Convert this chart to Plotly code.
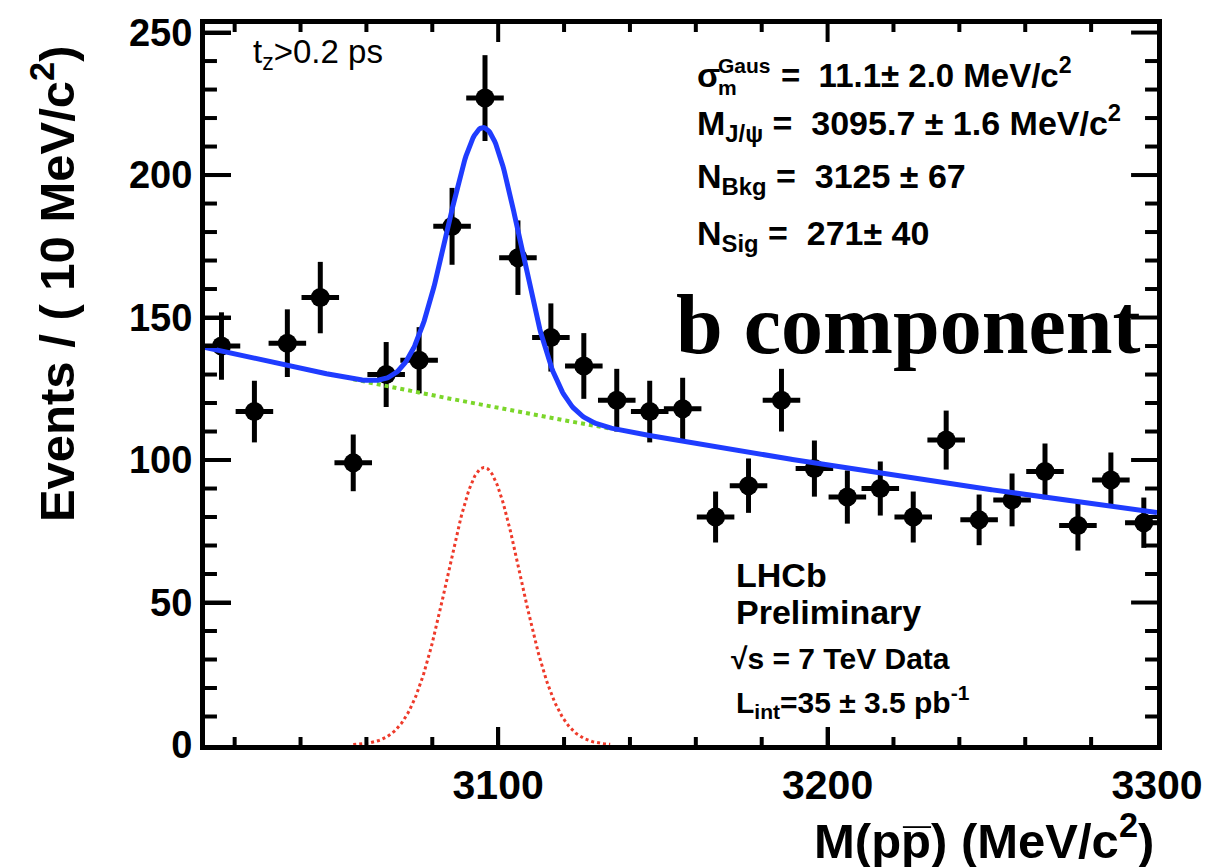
import numpy as np
import plotly.graph_objects as go

# ---------------- data ----------------
mass_bins = [3016, 3026, 3036, 3046, 3056, 3066, 3076, 3086, 3096, 3106,
             3116, 3126, 3136, 3146, 3156, 3166, 3176, 3186, 3196, 3206,
             3216, 3226, 3236, 3246, 3256, 3266, 3276, 3286, 3296]
events = [140, 117, 141, 157, 99, 130, 135, 182, 227, 171,
          143, 133, 121, 117, 118, 80, 91, 121, 97, 87,
          90, 80, 107, 79, 86, 96, 77, 93, 78]
bin_half_width = 5.7

# fit parameters (from the chart text and curve)
sig_mean = 3095.7
sig_sigma = 11.1
n_sig = 271
bin_width = 10
bkg_lo = 139.5   # background level at the left edge
bkg_hi = 81.6    # background level at the right edge
x_lo, x_hi = 3011, 3300
y_lo, y_hi = 0, 253
comp_lo, comp_hi = 3056, 3134

# tick values
x_major = [3100, 3200, 3300]
x_minor = [3020, 3040, 3060, 3080, 3120, 3140, 3160, 3180,
           3220, 3240, 3260, 3280]
y_major = [0, 50, 100, 150, 200, 250]
y_minor = [10, 20, 30, 40, 60, 70, 80, 90, 110, 120, 130, 140,
           160, 170, 180, 190, 210, 220, 230, 240]

# ---------------- model curves ----------------
def bkg(x):
    k = np.log(bkg_lo / bkg_hi) / (x_hi - x_lo)
    return bkg_lo * np.exp(-k * (x - x_lo))

def sig(x):
    amp = n_sig * bin_width / (sig_sigma * np.sqrt(2 * np.pi))
    return amp * np.exp(-0.5 * ((x - sig_mean) / sig_sigma) ** 2)

xc = np.linspace(x_lo, x_hi, 800)
xs = np.linspace(comp_lo, comp_hi, 300)

# ---------------- geometry ----------------
W, H = 1215, 867
L, R, T, B = 205, 1160, 23, 745
PW, PH = R - L, B - T

def px(xp):
    return (xp - L) / PW

def py(yp):
    return (B - yp) / PH

FONT = "Liberation Sans"

fig = go.Figure()

fig.add_trace(go.Scatter(
    x=mass_bins, y=events, mode="markers",
    marker=dict(color="black", size=19, symbol="circle"),
    error_y=dict(type="data", array=list(np.sqrt(events)), color="black",
                 thickness=5, width=0),
    error_x=dict(type="constant", value=bin_half_width, color="black",
                 thickness=5, width=0),
    showlegend=False, hoverinfo="skip"))

fig.add_trace(go.Scatter(x=xs, y=bkg(xs), mode="lines",
                         line=dict(color="#7bd62a", width=4, dash="dot"),
                         showlegend=False))
fig.add_trace(go.Scatter(x=xs, y=sig(xs), mode="lines",
                         line=dict(color="#ee3a2a", width=3, dash="dot"),
                         showlegend=False))
fig.add_trace(go.Scatter(x=xc, y=bkg(xc) + sig(xc), mode="lines",
                         line=dict(color="#1f3cff", width=5),
                         showlegend=False))

# minor and mirrored inside ticks, drawn through the axes' own scales
ux = (x_hi - x_lo) / PW   # data units per pixel, x
uy = (y_hi - y_lo) / PH   # data units per pixel, y
tx, ty = [], []
for vals, length in ((x_major, 18), (x_minor, 8)):
    for v in vals:
        if x_lo < v < x_hi:
            tx += [v, v, None, v, v, None]
            ty += [y_lo, y_lo + length * uy, None, y_hi, y_hi - length * uy, None]
for vals, length in ((y_major, 26), (y_minor, 12)):
    for v in vals:
        if y_lo < v < y_hi:
            tx += [x_lo, x_lo + length * ux, None, x_hi, x_hi - length * ux, None]
            ty += [v, v, None, v, v, None]
fig.add_trace(go.Scatter(x=tx, y=ty, mode="lines", connectgaps=False,
                         line=dict(color="black", width=4),
                         showlegend=False, hoverinfo="skip"))

fig.update_layout(
    width=W, height=H,
    margin=dict(l=L, r=W - R, t=T, b=H - B, pad=0),
    paper_bgcolor="white", plot_bgcolor="white",
    font=dict(family=FONT, color="black"),
)
fig.update_xaxes(range=[x_lo, x_hi], tickmode="array", tickvals=x_major,
                 ticks="inside", ticklen=18, tickwidth=4, tickcolor="black",
                 showline=True, linewidth=5, linecolor="black",
                 mirror=True, showgrid=False, zeroline=False,
                 tickfont=dict(size=41, family=FONT, weight="bold"))
fig.update_yaxes(range=[y_lo, y_hi], tickmode="array", tickvals=y_major,
                 ticks="inside", ticklen=26, tickwidth=4, tickcolor="black",
                 showline=True, linewidth=5, linecolor="black",
                 mirror=True, showgrid=False, zeroline=False,
                 tickfont=dict(size=38, family=FONT, weight="bold"))

ann = []

def label(text, x_left, baseline, size, sub=False, serif=False, anchor="left",
          weight="normal"):
    fam = "Liberation Serif" if serif else FONT
    desc = (0.216 if serif else 0.212) * size
    if sub:
        desc = 0.295 * size
    ann.append(dict(text=text, xref="paper", yref="paper",
                    x=px(x_left), y=py(baseline + desc + 1),
                    xanchor=anchor, yanchor="bottom", showarrow=False,
                    font=dict(family=fam, size=size, color="black", weight=weight)))

NB = "\u00a0"
label("t<sub>z</sub>&gt;0.2 ps", 251, 65, 33, sub=True)
label("σ", 697, 87, 34, weight="bold")
label("Gaus", 718, 73, 21, weight="bold")
label("m", 718, 95, 21, weight="bold")
label(f"={NB}{NB}11.1± 2.0 MeV/c<sup>2</sup>", 781, 87, 33, weight="bold")
label(f"M<sub>J/ψ</sub> ={NB}{NB}3095.7 ± 1.6 MeV/c<sup>2</sup>", 697, 137, 34,
      sub=True, weight="bold")
label(f"N<sub>Bkg</sub> ={NB}{NB}3125 ± 67", 697, 190, 34, sub=True, weight="bold")
label(f"N<sub>Sig</sub> ={NB}{NB}271± 40", 697, 247, 34, sub=True, weight="bold")
label("b component", 675, 353, 84, serif=True, weight="bold")
label("LHCb", 736, 588, 34, weight="bold")
label("Preliminary", 736, 625, 34, weight="bold")
label("√s = 7 TeV Data", 731, 670, 30, weight="bold")
label("L<sub>int</sub>=35 ± 3.5 pb<sup>-1</sup>", 736, 715, 30, sub=True, weight="bold")
label("M(pp\u0305) (MeV/c<sup>2</sup>)", 1159, 859, 49, anchor="right", weight="bold")
ann.append(dict(text="Events / ( 10 MeV/c<sup>2</sup>)", xref="paper", yref="paper",
                x=px(53), y=py(283), xanchor="center", yanchor="middle",
                textangle=-90, showarrow=False,
                font=dict(family=FONT, size=49, color="black", weight="bold")))

fig.update_layout(annotations=ann)
fig.write_html("out.html")
